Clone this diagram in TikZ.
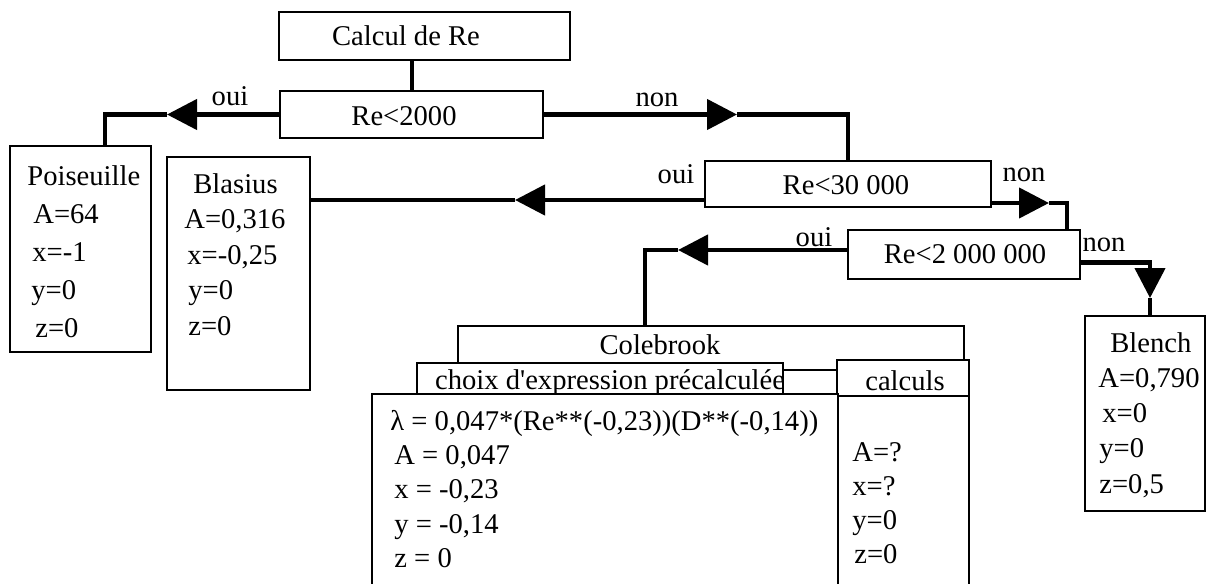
\documentclass[tikz,border=0pt]{standalone}
\usepackage{fontspec}
\setmainfont{Liberation Serif}[Ligatures=TeXOff]
\usetikzlibrary{arrows.meta,fit}
\tikzset{%
	boite/.style  = {draw, line width=1pt, fill=white, inner sep=0pt}, % Box
	texte/.style  = {align=left, inner sep=0pt, anchor=north west}, % Values
	rep/.style    = {inner sep=0pt}, % oui / non
	lien/.style   = {line width=2.2pt},
	fleche/.style = {lien, -{Triangle[length=15pt,width=15pt]}},
}

\begin{document}
\begin{tikzpicture}[x=0.5pt,y=-0.5pt,font=\fontsize{14.3}{17}\selectfont]
	\useasboundingbox (0,0) rectangle (1213,583);
	\clip (0,0) rectangle (1213,583);

	\node [boite,fit={(279,12)(570,60)}] (calc) {};
	\node (calctxt) at (406,36) {Calcul de Re};
	\node [boite,fit={(280,91)(543,138)}] (r1) {};
	\node (r1txt) at (404,116) {Re<2000};
	\node [boite,fit={(705,161)(991,207)}] (r2) {};
	\node (r2txt) at (846,185) {Re<30 000};
	\node [boite,fit={(848,230)(1080,279)}] (r3) {};
	\node (r3txt) at (965,254) {Re<2 000 000};

	\node [boite,fit={(10,146)(151,352)}] (pois) {};
	\node [texte,font=\fontsize{14.3}{19}\selectfont] (poistxt) at (27,165)
		{Poiseuille\\\hspace*{3pt}A=64\\\hspace*{2.5pt}x=-1\\\hspace*{2pt}y=0\\\hspace*{4pt}z=0};
	\node [boite,fit={(167,157)(310,390)}] (blas) {};
	\node [texte,font=\fontsize{14.3}{17.75}\selectfont] (blastxt) at (184,173)
		{\hspace*{4.5pt}Blasius\\A=0,316\\\hspace*{1.5pt}x=-0,25\\\hspace*{2pt}y=0\\\hspace*{2pt}z=0};
	\node [boite,fit={(1085,316)(1205,511)}] (blen) {};
	\node [texte,font=\fontsize{14.3}{17.6}\selectfont] (blentxt) at (1098,332)
		{\hspace*{6pt}Blench\\A=0,790\\\hspace*{2pt}x=0\\\hspace*{0.5pt}y=0\\\hspace*{0.5pt}z=0,5};

	% Colebrook
	\node [boite,fit={(458,326)(964,370)}] (cole) {};
	\node (coletxt) at (660,345) {Colebrook};
	\node [boite,fit={(417,363)(783,394)}] (choix) {};
	\node (choixtxt) at (610,383) {choix d'expression précalculée};
	\node [boite,fit={(837,360)(969,396)}] (calcul) {};
	\node (calcultxt) at (905,381) {calculs};
	\node [boite,fit={(372,394)(838,640)}] (expr) {};
	\node [boite,fit={(838,396)(969,640)}] (res) {};
	\node [texte,font=\fontsize{14.3}{17.1}\selectfont] (exprtxt) at (390,410)
		{λ = 0,047*(Re**(-0,23))(D**(-0,14))\\\hspace*{2pt}A = 0,047\\\hspace*{2pt}x = -0,23\\\hspace*{2pt}y = -0,14\\\hspace*{2pt}z = 0};
	\node [texte,font=\fontsize{14.3}{17.1}\selectfont] (restxt) at (852,442)
		{A=?\\x=?\\y=0\\\hspace*{1pt}z=0};

	\node [rep] (oui1) at (230,96) {oui};
	\node [rep] (non1) at (657,100) {non};
	\node [rep] (oui2) at (676,174) {oui};
	\node [rep] (non2) at (1024,175) {non};
	\node [rep] (oui3) at (814,237) {oui};
	\node [rep] (non3) at (1104,245) {non};

	\coordinate (c0) at (412,60);
	\coordinate (p1) at (167,114.5);
	\coordinate (q1) at (105,146);
	\coordinate (p2) at (737,114.5);
	\coordinate (p3) at (515,200);
	\coordinate (p4) at (1049,203);
	\coordinate (q4) at (1067,230);
	\coordinate (p5) at (678,250);
	\coordinate (q5) at (645,326);
	\coordinate (p6) at (1150,298);

	\draw [lien] (c0) -- (c0 |- r1.north);
	\draw [fleche] (r1.west) -- (p1);
	\draw [lien] (p1) -| (q1);
	\draw [fleche] (r1.east) -- (p2);
	\draw [lien] (p2) -| (r2.north);
	\draw [fleche] (r2.west |- p3) -- (p3);
	\draw [lien] (p3) -- (p3 -| blas.east);
	\draw [fleche] (r2.east |- p4) -- (p4);
	\draw [lien] (p4) -| (q4);
	\draw [fleche] (r3.west |- p5) -- (p5);
	\draw [lien] (p5) -| (q5);
	\draw [fleche] ([yshift=-4pt]r3.east) -| (p6);
	\draw [lien] (p6) -- (p6 |- blen.north);
\end{tikzpicture}
\end{document}
